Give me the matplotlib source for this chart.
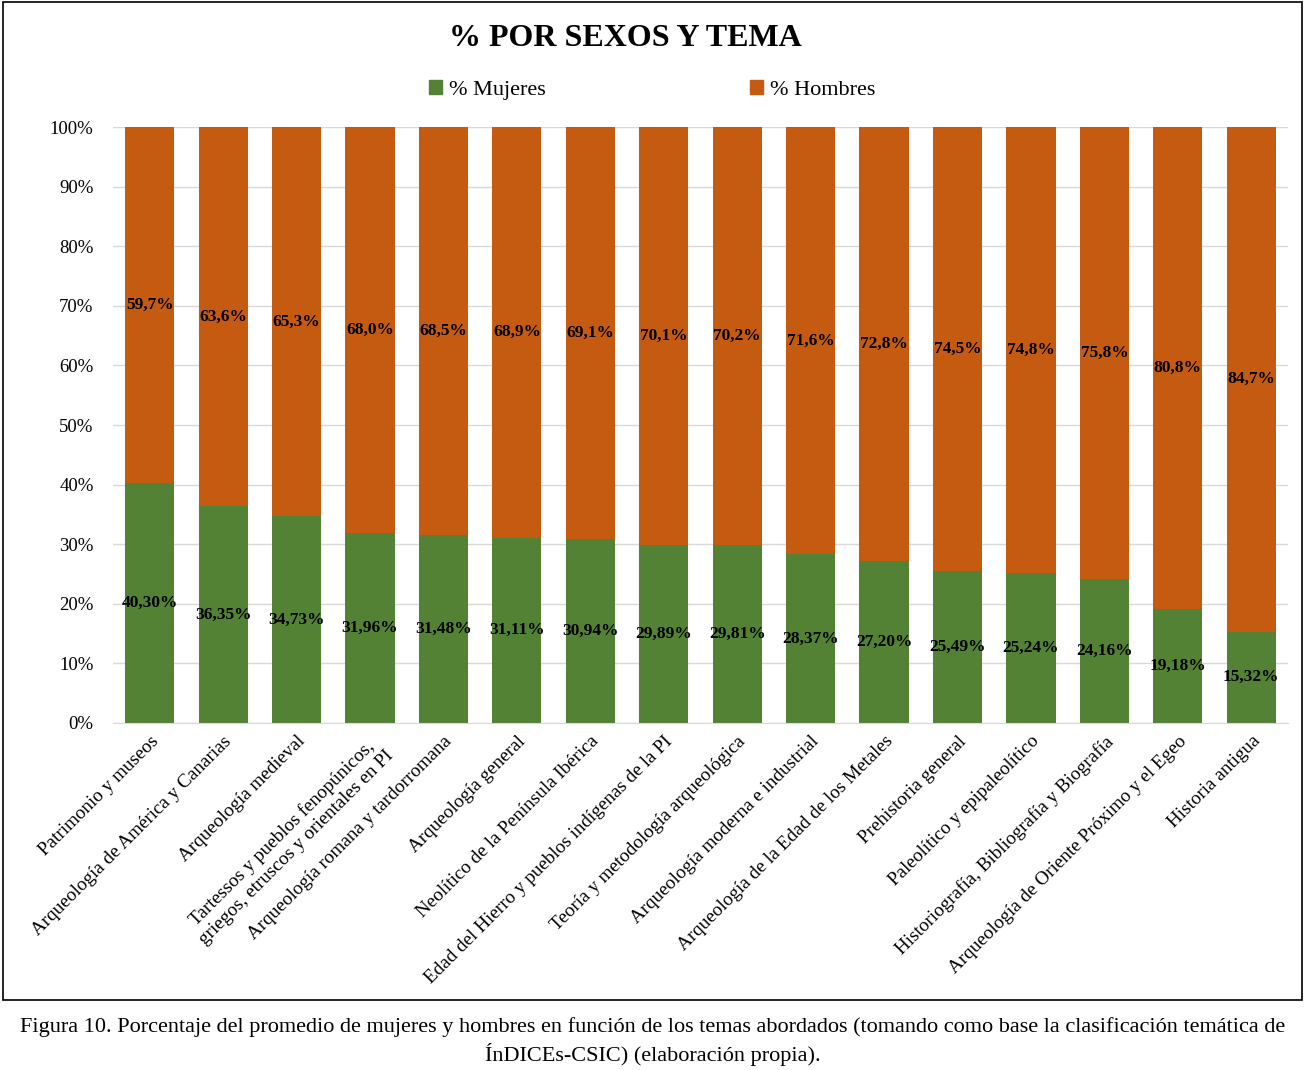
import numpy as np
import matplotlib
matplotlib.use("Agg")
import matplotlib.pyplot as plt
from matplotlib.patches import Rectangle, Patch

plt.rcParams['font.family'] = ['Liberation Serif', 'DejaVu Serif']

temas = [
    "Patrimonio y museos",
    "Arqueología de América y Canarias",
    "Arqueología medieval",
    "Tartessos y pueblos fenopúnicos,\ngriegos, etruscos y orientales en PI",
    "Arqueología romana y tardorromana",
    "Arqueología general",
    "Neolítico de la Península Ibérica",
    "Edad del Hierro y pueblos indígenas de la PI",
    "Teoría y metodología arqueológica",
    "Arqueología moderna e industrial",
    "Arqueología de la Edad de los Metales",
    "Prehistoria general",
    "Paleolítico y epipaleolítico",
    "Historiografía, Bibliografía y Biografía",
    "Arqueología de Oriente Próximo y el Egeo",
    "Historia antigua",
]
mujeres = [40.30, 36.35, 34.73, 31.96, 31.48, 31.11, 30.94, 29.89,
           29.81, 28.37, 27.20, 25.49, 25.24, 24.16, 19.18, 15.32]
hombres = [59.7, 63.6, 65.3, 68.0, 68.5, 68.9, 69.1, 70.1,
           70.2, 71.6, 72.8, 74.5, 74.8, 75.8, 80.8, 84.7]

verde = '#548235'
naranja = '#C55A11'

fig = plt.figure(figsize=(13.06, 10.70), dpi=100)
ax = fig.add_axes([0.0865, 0.3243, 0.8997, 0.557])

x = np.arange(len(temas))
ax.bar(x, mujeres, width=0.67, color=verde, label='% Mujeres', zorder=3)
ax.bar(x, hombres, width=0.67, bottom=mujeres, color=naranja, label='% Hombres', zorder=3)

# etiquetas en el centro de cada tramo
for i in range(len(temas)):
    ax.text(x[i], mujeres[i] / 2, f"{mujeres[i]:.2f}%".replace('.', ','),
            ha='center', va='center', fontsize=12.5, fontweight='bold', zorder=4)
    ax.text(x[i], mujeres[i] + hombres[i] / 2, f"{hombres[i]:.1f}%".replace('.', ','),
            ha='center', va='center', fontsize=12.5, fontweight='bold', zorder=4)

ax.set_xlim(-0.5, len(temas) - 0.5)
ax.set_ylim(0, 100)
ax.set_yticks(np.arange(0, 101, 10))
ax.set_yticklabels([f"{v}%" for v in range(0, 101, 10)], fontsize=13.5)
ax.yaxis.grid(True, color='#D9D9D9', linewidth=1, zorder=0)
ax.set_xticks(x)
ax.set_xticklabels(temas, rotation=45, ha='right', rotation_mode='anchor',
                   fontsize=13.8, multialignment='center')
ax.tick_params(axis='both', length=0)
ax.tick_params(axis='y', pad=14)
ax.tick_params(axis='x', pad=7)
for s in ['top', 'right', 'left']:
    ax.spines[s].set_visible(False)
ax.spines['bottom'].set_color('#D9D9D9')
ax.spines['bottom'].set_zorder(5)

fig.text(625 / 1306, 1 - 39 / 1070, "% POR SEXOS Y TEMA", ha='center', va='center',
         fontsize=23, fontweight='bold')

handles = [Patch(color=verde), Patch(color=naranja)]
fig.legend(handles, ['% Mujeres', '% Hombres'], loc='center', ncol=2,
           bbox_to_anchor=(652 / 1306, 1 - 90 / 1070), frameon=False, fontsize=16,
           handlelength=0.6, handleheight=0.6, handletextpad=0.3, columnspacing=9.2)

fig.patches.append(Rectangle((3 / 1306, 70 / 1070), 1299 / 1306, 998 / 1070,
                             transform=fig.transFigure, fill=False,
                             edgecolor='black', linewidth=1.2))

fig.text(0.5, 1 - 1027 / 1070,
         "Figura 10. Porcentaje del promedio de mujeres y hombres en función de los temas abordados (tomando como base la clasificación temática de",
         ha='center', va='center', fontsize=16)
fig.text(0.5, 1 - 1055 / 1070, "ÍnDICEs-CSIC) (elaboración propia).",
         ha='center', va='center', fontsize=16)

fig.savefig('out.png', dpi=100)
